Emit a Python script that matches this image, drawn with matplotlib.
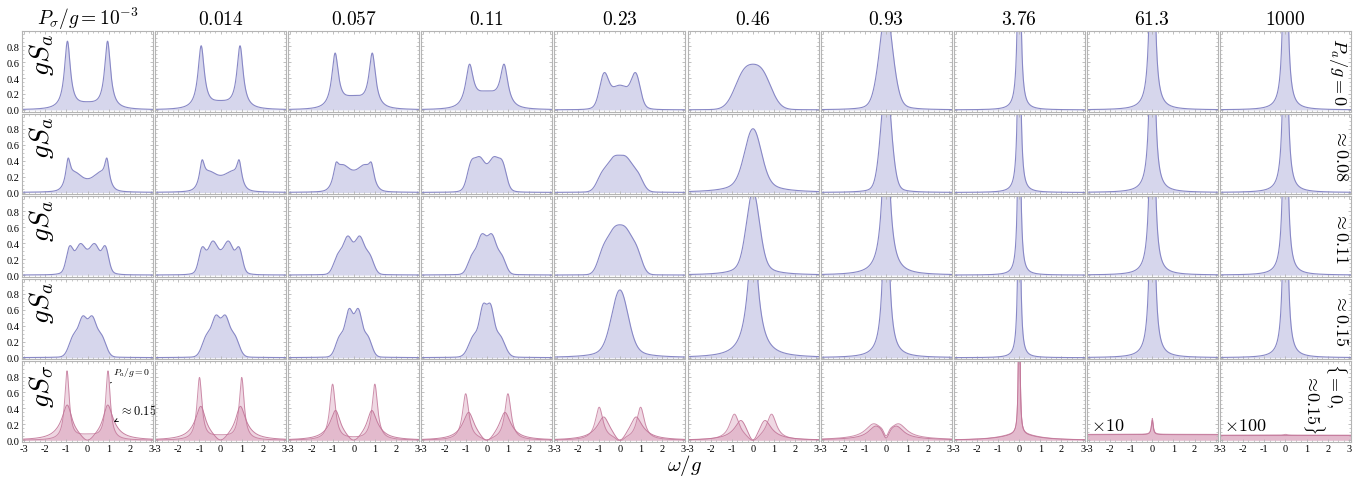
import numpy as np
import matplotlib
matplotlib.use("Agg")
import matplotlib.pyplot as plt

plt.rcParams['mathtext.fontset'] = 'cm'
plt.rcParams['font.family'] = ['Liberation Serif', 'DejaVu Serif']

# ---------------- data ----------------
col_titles = [r'$P_\sigma/g=10^{-3}$', r'$0.014$', r'$0.057$', r'$0.11$', r'$0.23$',
              r'$0.46$', r'$0.93$', r'$3.76$', r'$61.3$', r'$1000$']
row_labels = [r'$P_a/g=0$', r'$\approx 0.08$', r'$\approx 0.11$', r'$\approx 0.15$',
              r'$\{=0,$' + '\n' + r'$\ \ \approx\! 0.15\}$']
ylabels = [r'$gS_a$', r'$gS_a$', r'$gS_a$', r'$gS_a$', r'$gS_\sigma$']
x_ticks = [-3, -2, -1, 0, 1, 2, 3]
x_ticklabels = ['-3', '-2', '-1', '0', '1', '2', '3']
y_ticks = [0.0, 0.2, 0.4, 0.6, 0.8]
y_ticklabels = ['0.0', '0.2', '0.4', '0.6', '0.8']
scale_notes = {8: r'$\times 10$', 9: r'$\times 100$'}

# spectral components: (centre, height, width, shape)
# centre > 0 means a symmetric pair at +/- centre ; L = Lorentzian, G = Gaussian
Sa_Pa0 = [
    [(0.95, 0.85, 0.17, 'L'), (0, 0.05, 0.45, 'G')],
    [(0.92, 0.79, 0.18, 'L'), (0, 0.06, 0.45, 'G')],
    [(0.88, 0.68, 0.19, 'L'), (0, 0.12, 0.5, 'G')],
    [(0.82, 0.52, 0.22, 'L'), (0, 0.17, 0.5, 'G')],
    [(0.76, 0.34, 0.20, 'G'), (0, 0.28, 0.55, 'G'), (0, 0.03, 0.8, 'L')],
    [(0.42, 0.42, 0.45, 'G'), (0, 0.03, 0.8, 'L')],
    [(0, 0.85, 0.33, 'G'), (0, 0.45, 0.30, 'L')],
    [(0, 3.0, 0.075, 'L')],
    [(0, 4.0, 0.10, 'L')],
    [(0, 4.0, 0.09, 'L')],
]
Sa_Pa008 = [
    [(0.92, 0.31, 0.13, 'L'), (0.60, 0.19, 0.30, 'G'), (0, 0.09, 0.30, 'G'), (0, 0.02, 1.0, 'L')],
    [(0.88, 0.29, 0.14, 'L'), (0.55, 0.19, 0.30, 'G'), (0, 0.11, 0.30, 'G'), (0, 0.02, 1.0, 'L')],
    [(0.84, 0.19, 0.14, 'L'), (0.55, 0.27, 0.30, 'G'), (0, 0.15, 0.30, 'G'), (0, 0.02, 1.0, 'L')],
    [(0.75, 0.26, 0.18, 'G'), (0.37, 0.20, 0.20, 'G'), (0, 0.27, 0.50, 'G'), (0, 0.02, 1.0, 'L')],
    [(0.30, 0.36, 0.30, 'G'), (0.85, 0.18, 0.25, 'G'), (0, 0.03, 0.8, 'L')],
    [(0, 0.55, 0.38, 'G'), (0, 0.25, 0.7, 'L')],
    [(0, 1.0, 0.25, 'G'), (0, 0.5, 0.22, 'L')],
    [(0, 3.0, 0.07, 'L')],
    [(0, 4.0, 0.10, 'L')],
    [(0, 4.0, 0.09, 'L')],
]
Sa_Pa011 = [
    [(0.85, 0.27, 0.15, 'G'), (0.37, 0.18, 0.20, 'G'), (0, 0.24, 0.55, 'G'), (0, 0.02, 1.0, 'L')],
    [(0.88, 0.26, 0.15, 'G'), (0.40, 0.22, 0.20, 'G'), (0, 0.24, 0.55, 'G'), (0, 0.02, 1.0, 'L')],
    [(0.30, 0.30, 0.20, 'G'), (0.75, 0.20, 0.20, 'G'), (0, 0.20, 0.40, 'G'), (0, 0.02, 1.0, 'L')],
    [(0.25, 0.34, 0.20, 'G'), (0.70, 0.20, 0.20, 'G'), (0, 0.16, 0.35, 'G'), (0, 0.02, 1.0, 'L')],
    [(0.28, 0.47, 0.30, 'G'), (0.80, 0.25, 0.25, 'G'), (0, 0.02, 0.8, 'L')],
    [(0, 0.75, 0.30, 'G'), (0, 0.30, 0.5, 'L')],
    [(0, 2.0, 0.20, 'L')],
    [(0, 3.0, 0.065, 'L')],
    [(0, 4.0, 0.10, 'L')],
    [(0, 4.0, 0.09, 'L')],
]
Sa_Pa015 = [
    [(0.22, 0.33, 0.18, 'G'), (0.65, 0.24, 0.22, 'G'), (0, 0.15, 0.35, 'G'), (0, 0.02, 1.0, 'L')],
    [(0.22, 0.34, 0.18, 'G'), (0.65, 0.24, 0.22, 'G'), (0, 0.15, 0.35, 'G'), (0, 0.02, 1.0, 'L')],
    [(0.22, 0.45, 0.17, 'G'), (0.65, 0.24, 0.20, 'G'), (0, 0.14, 0.30, 'G'), (0, 0.02, 1.0, 'L')],
    [(0.17, 0.47, 0.16, 'G'), (0.60, 0.24, 0.25, 'G'), (0, 0.09, 0.40, 'G'), (0, 0.02, 1.0, 'L')],
    [(0, 0.60, 0.38, 'G'), (0, 0.25, 0.6, 'L')],
    [(0, 1.5, 0.30, 'L')],
    [(0, 2.5, 0.15, 'L')],
    [(0, 3.0, 0.06, 'L')],
    [(0, 4.0, 0.10, 'L')],
    [(0, 4.0, 0.09, 'L')],
]
Ss_Pa0 = [
    [(0.97, 0.86, 0.13, 'L'), (0, 0.05, 0.5, 'G')],
    [(1.00, 0.78, 0.14, 'L'), (0, 0.04, 0.5, 'G')],
    [(1.00, 0.70, 0.16, 'L'), (0, 0.01, 0.4, 'G')],
    [(1.00, 0.58, 0.18, 'L'), (0, -0.03, 0.2, 'G')],
    [(0.98, 0.41, 0.22, 'L'), (0, -0.05, 0.15, 'G')],
    [(0.88, 0.32, 0.28, 'L'), (0, -0.06, 0.20, 'G')],
    [(0.60, 0.16, 0.45, 'L'), (0, -0.09, 0.10, 'G'), (0, 0.03, 2.0, 'L')],
    [(0, 3.0, 0.03, 'L'), (0, 0.08, 1.0, 'L')],
    [(0, 0.20, 0.05, 'L'), (0, 0.075, 30.0, 'L')],
    [(0, 0.01, 0.10, 'L'), (0, 0.065, 30.0, 'L')],
]
Ss_Pa015 = [
    [(0.95, 0.32, 0.25, 'L'), (1.10, 0.12, 0.5, 'L'), (0, -0.08, 0.25, 'G')],
    [(0.93, 0.30, 0.25, 'L'), (1.05, 0.12, 0.5, 'L'), (0, -0.08, 0.25, 'G')],
    [(0.85, 0.27, 0.25, 'L'), (1.00, 0.10, 0.5, 'L'), (0, -0.08, 0.25, 'G')],
    [(0.85, 0.24, 0.28, 'L'), (0.95, 0.10, 0.5, 'L'), (0, -0.09, 0.25, 'G')],
    [(0.76, 0.20, 0.30, 'L'), (0.90, 0.08, 0.6, 'L'), (0, -0.10, 0.22, 'G')],
    [(0.57, 0.17, 0.30, 'L'), (0.70, 0.06, 0.6, 'L'), (0, -0.12, 0.18, 'G')],
    [(0.50, 0.14, 0.40, 'L'), (0, -0.10, 0.12, 'G'), (0, 0.02, 2.0, 'L')],
    [(0, 2.5, 0.035, 'L'), (0, 0.07, 1.0, 'L')],
    [(0, 0.18, 0.05, 'L'), (0, 0.07, 30.0, 'L')],
    [(0, 0.06, 30.0, 'L')],
]
Sa_rows = [Sa_Pa0, Sa_Pa008, Sa_Pa011, Sa_Pa015]

# ---------------- helpers ----------------
omega = np.linspace(-3.1, 3.1, 3101)


def spectrum(comps):
    s = np.zeros_like(omega)
    for c, h, w, kind in comps:
        for cc in ([c] if c == 0 else [c, -c]):
            if kind == 'L':
                s += h * w ** 2 / ((omega - cc) ** 2 + w ** 2)
            else:
                s += h * np.exp(-(omega - cc) ** 2 / (2 * w ** 2))
    return np.clip(s, 0, None)


# ---------------- figure ----------------
W, H = 1369, 485
fig = plt.figure(figsize=(W / 100, H / 100), dpi=100)
left0, pw, pitch_x = 22, 131, 133.1
top0, ph, pitch_y = 32, 80.5, 82.6

blue_fill, blue_line = '#d6d6ec', '#8888c6'
pink_fill, pink_line = '#c9769d', '#c27598'
frame_c = '#b4b4b4'

for r in range(5):
    for c in range(10):
        ax = fig.add_axes([(left0 + c * pitch_x) / W,
                           1 - (top0 + r * pitch_y + ph) / H, pw / W, ph / H])
        if r < 4:
            s = spectrum(Sa_rows[r][c])
            ax.fill_between(omega, 0, s, color=blue_fill, lw=0)
            ax.plot(omega, s, color=blue_line, lw=0.8)
        else:
            s0 = spectrum(Ss_Pa0[c])
            s1 = spectrum(Ss_Pa015[c])
            ax.fill_between(omega, 0, s0, color=pink_fill, alpha=0.28, lw=0)
            ax.fill_between(omega, 0, s1, color=pink_fill, alpha=0.30, lw=0)
            ax.plot(omega, s0, color=pink_line, lw=0.7, alpha=0.8)
            ax.plot(omega, s1, color=pink_line, lw=0.7, alpha=0.9)
        ax.set_xlim(-3.1, 3.1)
        ax.set_ylim(-0.02, 0.99)
        ax.set_xticks(x_ticks)
        ax.set_xticks(np.arange(-3, 3.01, 0.25), minor=True)
        ax.set_yticks(y_ticks)
        ax.set_yticks(np.arange(0, 0.96, 0.05), minor=True)
        ax.set_xticklabels(x_ticklabels)
        ax.set_yticklabels(y_ticklabels)
        ax.tick_params(which='both', direction='in', color=frame_c,
                       top=True, right=True, labelsize=7.5, pad=1.5,
                       labelbottom=(r == 4), labelleft=(c == 0))
        ax.tick_params(which='major', length=2.5, width=0.6)
        ax.tick_params(which='minor', length=1.3, width=0.5)
        for sp in ax.spines.values():
            sp.set_color(frame_c)
            sp.set_linewidth(0.8)
            sp.set_linestyle((0, (2, 1)))
        if r == 0:
            ax.set_title(col_titles[c], fontsize=14, pad=5)
        if c == 0:
            ax.text(0.15, 0.97, ylabels[r], transform=ax.transAxes, rotation=90,
                    ha='center', va='top', fontsize=20)
        if c == 9:
            ax.text(0.985, 0.5 if r < 4 else 0.55, row_labels[r], transform=ax.transAxes,
                    rotation=-90, ha='right', va='center', fontsize=13,
                    multialignment='left', linespacing=0.9)
        if r == 4 and c in scale_notes:
            ax.text(0.03, 0.10, scale_notes[c], transform=ax.transAxes,
                    ha='left', va='bottom', fontsize=13)
        if r == 4 and c == 0:
            ax.annotate(r'$P_a/g=0$', xy=(1.08, 0.72), xytext=(1.2, 0.86),
                        fontsize=7, ha='left', va='center',
                        arrowprops=dict(arrowstyle='-', color='k', lw=0.6))
            ax.annotate(r'$\approx 0.15$', xy=(1.25, 0.23), xytext=(1.5, 0.38),
                        fontsize=9, ha='left', va='center',
                        arrowprops=dict(arrowstyle='->', color='k', lw=0.6,
                                        mutation_scale=6))

fig.text(0.5, 0.041, r'$\omega/g$', ha='center', va='center', fontsize=15)
fig.savefig('out.png', dpi=100)
